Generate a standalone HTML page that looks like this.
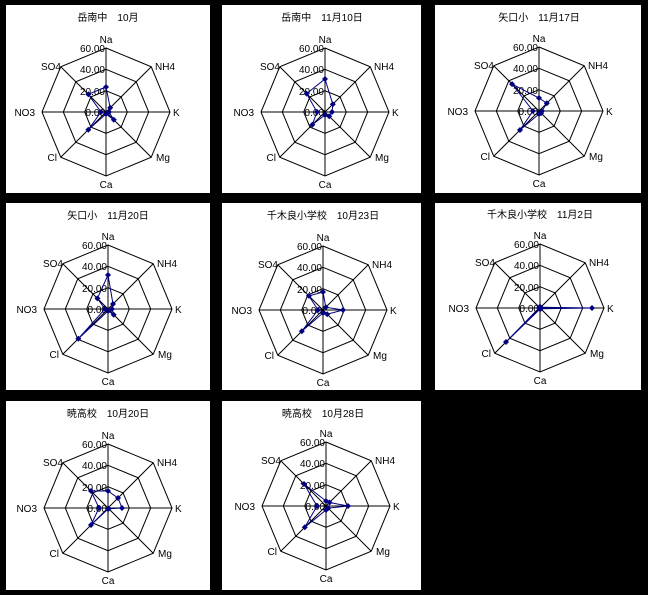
<!DOCTYPE html>
<html><head><meta charset="utf-8"><style>
html,body{margin:0;padding:0;background:#000;}
svg{display:block;}
text{font-family:"Liberation Sans","Noto Sans CJK JP",sans-serif;font-size:10px;fill:#000;}
.g{fill:none;stroke:#000;stroke-width:1;}
.d{fill:none;stroke:#000080;stroke-width:1;}
</style></head><body>
<svg width="648" height="595" viewBox="0 0 648 595" xmlns="http://www.w3.org/2000/svg">
<defs>
<g id="grid">
<polygon class="g" points="0,-64 45.25,-45.25 64,0 45.25,45.25 0,64 -45.25,45.25 -64,0 -45.25,-45.25"/>
<polygon class="g" points="0,-42.7 30.2,-30.2 42.7,0 30.2,30.2 0,42.7 -30.2,30.2 -42.7,0 -30.2,-30.2"/>
<polygon class="g" points="0,-21.3 15.1,-15.1 21.3,0 15.1,15.1 0,21.3 -15.1,15.1 -21.3,0 -15.1,-15.1"/>
<line class="g" x1="0" y1="-64" x2="0" y2="64"/>
<line class="g" x1="-64" y1="0" x2="64" y2="0"/>
<line class="g" x1="-45.25" y1="-45.25" x2="45.25" y2="45.25"/>
<line class="g" x1="45.25" y1="-45.25" x2="-45.25" y2="45.25"/>
</g>
<path id="m" d="M0,-3L3,0L0,3L-3,0Z" fill="#000080"/>
</defs>
<g fill="#fff">
<rect x="6" y="5" width="204" height="188"/>
<rect x="222" y="5" width="199" height="188"/>
<rect x="435" y="5" width="206" height="188"/>
<rect x="6" y="203" width="204" height="187"/>
<rect x="222" y="203" width="199" height="187"/>
<rect x="435" y="203" width="206" height="187"/>
<rect x="6" y="401" width="204" height="189"/>
<rect x="222" y="401" width="199" height="189"/>
</g>

<!-- Panel 1 -->
<g transform="translate(106,112)">
<use href="#grid"/>
<text x="2" y="-91" text-anchor="middle">岳南中　10月</text>
<text x="0" y="-69" text-anchor="middle">Na</text><text x="49" y="-42">NH4</text><text x="67" y="4">K</text><text x="50" y="49">Mg</text><text x="0" y="76" text-anchor="middle">Ca</text><text x="-49" y="49" text-anchor="end">Cl</text><text x="-71" y="4" text-anchor="end">NO3</text><text x="-45" y="-42" text-anchor="end">SO4</text>
<text x="-1" y="-60" text-anchor="end">60.00</text><text x="-1" y="-39" text-anchor="end">40.00</text><text x="-1" y="-17" text-anchor="end">20.00</text><text x="-1" y="4" text-anchor="end">0.00</text>
<polygon class="d" points="0,-25 4.2,-4.2 3,0 7.8,7.8 0,2 -17.7,17.7 -5,0 -17.7,-17.7"/>
<use href="#m" x="0" y="-25"/><use href="#m" x="4.2" y="-4.2"/><use href="#m" x="3" y="0"/><use href="#m" x="7.8" y="7.8"/><use href="#m" x="0" y="2"/><use href="#m" x="-17.7" y="17.7"/><use href="#m" x="-5" y="0"/><use href="#m" x="-17.7" y="-17.7"/>
</g>

<!-- Panel 2 -->
<g transform="translate(325,112)">
<use href="#grid"/>
<text x="-3" y="-91" text-anchor="middle">岳南中　11月10日</text>
<text x="0" y="-69" text-anchor="middle">Na</text><text x="49" y="-42">NH4</text><text x="67" y="4">K</text><text x="50" y="49">Mg</text><text x="0" y="76" text-anchor="middle">Ca</text><text x="-49" y="49" text-anchor="end">Cl</text><text x="-71" y="4" text-anchor="end">NO3</text><text x="-45" y="-42" text-anchor="end">SO4</text>
<text x="-1" y="-60" text-anchor="end">60.00</text><text x="-1" y="-39" text-anchor="end">40.00</text><text x="-1" y="-17" text-anchor="end">20.00</text><text x="-1" y="4" text-anchor="end">0.00</text>
<polygon class="d" points="0,-33 7.8,-7.8 7,0 4.2,4.2 0,3 -12.7,12.7 -8,0 -18.4,-18.4"/>
<use href="#m" x="0" y="-33"/><use href="#m" x="7.8" y="-7.8"/><use href="#m" x="7" y="0"/><use href="#m" x="4.2" y="4.2"/><use href="#m" x="0" y="3"/><use href="#m" x="-12.7" y="12.7"/><use href="#m" x="-8" y="0"/><use href="#m" x="-18.4" y="-18.4"/>
</g>

<!-- Panel 3 -->
<g transform="translate(539,111)">
<use href="#grid"/>
<text x="0" y="-90" text-anchor="middle">矢口小　11月17日</text>
<text x="0" y="-69" text-anchor="middle">Na</text><text x="49" y="-42">NH4</text><text x="67" y="4">K</text><text x="50" y="49">Mg</text><text x="0" y="76" text-anchor="middle">Ca</text><text x="-49" y="49" text-anchor="end">Cl</text><text x="-71" y="4" text-anchor="end">NO3</text><text x="-45" y="-42" text-anchor="end">SO4</text>
<text x="-1" y="-60" text-anchor="end">60.00</text><text x="-1" y="-39" text-anchor="end">40.00</text><text x="-1" y="-17" text-anchor="end">20.00</text><text x="-1" y="4" text-anchor="end">0.00</text>
<polygon class="d" points="0,-13 7.8,-7.8 3,0 2.1,2.1 0,3 -19,19 -6,0 -26.9,-26.9"/>
<use href="#m" x="0" y="-13"/><use href="#m" x="7.8" y="-7.8"/><use href="#m" x="3" y="0"/><use href="#m" x="2.1" y="2.1"/><use href="#m" x="0" y="3"/><use href="#m" x="-19" y="19"/><use href="#m" x="-6" y="0"/><use href="#m" x="-26.9" y="-26.9"/>
</g>

<!-- Panel 4 -->
<g transform="translate(108,309)">
<use href="#grid"/>
<text x="0" y="-90" text-anchor="middle">矢口小　11月20日</text>
<text x="0" y="-69" text-anchor="middle">Na</text><text x="49" y="-42">NH4</text><text x="67" y="4">K</text><text x="50" y="49">Mg</text><text x="0" y="76" text-anchor="middle">Ca</text><text x="-49" y="49" text-anchor="end">Cl</text><text x="-71" y="4" text-anchor="end">NO3</text><text x="-45" y="-42" text-anchor="end">SO4</text>
<text x="-1" y="-60" text-anchor="end">60.00</text><text x="-1" y="-39" text-anchor="end">40.00</text><text x="-1" y="-17" text-anchor="end">20.00</text><text x="-1" y="4" text-anchor="end">0.00</text>
<polygon class="d" points="0,-34 5,-5 4,0 5.7,5.7 0,2 -29.7,29.7 -3,0 -10.6,-10.6"/>
<use href="#m" x="0" y="-34"/><use href="#m" x="5" y="-5"/><use href="#m" x="4" y="0"/><use href="#m" x="5.7" y="5.7"/><use href="#m" x="0" y="2"/><use href="#m" x="-29.7" y="29.7"/><use href="#m" x="-3" y="0"/><use href="#m" x="-10.6" y="-10.6"/>
</g>

<!-- Panel 5 -->
<g transform="translate(323,310)">
<use href="#grid"/>
<text x="0" y="-91" text-anchor="middle">千木良小学校　10月23日</text>
<text x="0" y="-69" text-anchor="middle">Na</text><text x="49" y="-42">NH4</text><text x="67" y="4">K</text><text x="50" y="49">Mg</text><text x="0" y="76" text-anchor="middle">Ca</text><text x="-49" y="49" text-anchor="end">Cl</text><text x="-71" y="4" text-anchor="end">NO3</text><text x="-45" y="-42" text-anchor="end">SO4</text>
<text x="-1" y="-60" text-anchor="end">60.00</text><text x="-1" y="-39" text-anchor="end">40.00</text><text x="-1" y="-17" text-anchor="end">20.00</text><text x="-1" y="4" text-anchor="end">0.00</text>
<polygon class="d" points="0,-18 2.8,-2.8 20,0 4.2,4.2 0,3 -21.2,21.2 -5,0 -14.1,-14.1"/>
<use href="#m" x="0" y="-18"/><use href="#m" x="2.8" y="-2.8"/><use href="#m" x="20" y="0"/><use href="#m" x="4.2" y="4.2"/><use href="#m" x="0" y="3"/><use href="#m" x="-21.2" y="21.2"/><use href="#m" x="-5" y="0"/><use href="#m" x="-14.1" y="-14.1"/>
</g>

<!-- Panel 6 -->
<g transform="translate(540,308)">
<use href="#grid"/>
<text x="0" y="-90" text-anchor="middle">千木良小学校　11月2日</text>
<text x="0" y="-69" text-anchor="middle">Na</text><text x="49" y="-42">NH4</text><text x="67" y="4">K</text><text x="50" y="49">Mg</text><text x="0" y="76" text-anchor="middle">Ca</text><text x="-49" y="49" text-anchor="end">Cl</text><text x="-71" y="4" text-anchor="end">NO3</text><text x="-45" y="-42" text-anchor="end">SO4</text>
<text x="-1" y="-60" text-anchor="end">60.00</text><text x="-1" y="-39" text-anchor="end">40.00</text><text x="-1" y="-17" text-anchor="end">20.00</text><text x="-1" y="4" text-anchor="end">0.00</text>
<polygon class="d" points="0,-1 0.7,-0.7 52,0 0.7,0.7 0,1 -34,34 -1,0 -0.7,-0.7"/>
<use href="#m" x="0" y="-1"/><use href="#m" x="0.7" y="-0.7"/><use href="#m" x="52" y="0"/><use href="#m" x="0.7" y="0.7"/><use href="#m" x="0" y="1"/><use href="#m" x="-34" y="34"/><use href="#m" x="-1" y="0"/><use href="#m" x="-0.7" y="-0.7"/>
</g>

<!-- Panel 7 -->
<g transform="translate(108,508)">
<use href="#grid"/>
<text x="0" y="-91" text-anchor="middle">暁高校　10月20日</text>
<text x="0" y="-69" text-anchor="middle">Na</text><text x="49" y="-42">NH4</text><text x="67" y="4">K</text><text x="50" y="49">Mg</text><text x="0" y="76" text-anchor="middle">Ca</text><text x="-49" y="49" text-anchor="end">Cl</text><text x="-71" y="4" text-anchor="end">NO3</text><text x="-45" y="-42" text-anchor="end">SO4</text>
<text x="-1" y="-60" text-anchor="end">60.00</text><text x="-1" y="-39" text-anchor="end">40.00</text><text x="-1" y="-17" text-anchor="end">20.00</text><text x="-1" y="4" text-anchor="end">0.00</text>
<polygon class="d" points="0,-17 10,-10 14,0 0.7,0.7 0,1 -17,17 -9,0 -17,-17"/>
<use href="#m" x="0" y="-17"/><use href="#m" x="10" y="-10"/><use href="#m" x="14" y="0"/><use href="#m" x="0.7" y="0.7"/><use href="#m" x="0" y="1"/><use href="#m" x="-17" y="17"/><use href="#m" x="-9" y="0"/><use href="#m" x="-17" y="-17"/>
</g>

<!-- Panel 8 -->
<g transform="translate(326,506)">
<use href="#grid"/>
<text x="-3" y="-89" text-anchor="middle">暁高校　10月28日</text>
<text x="0" y="-69" text-anchor="middle">Na</text><text x="49" y="-42">NH4</text><text x="67" y="4">K</text><text x="50" y="49">Mg</text><text x="0" y="76" text-anchor="middle">Ca</text><text x="-49" y="49" text-anchor="end">Cl</text><text x="-71" y="4" text-anchor="end">NO3</text><text x="-45" y="-42" text-anchor="end">SO4</text>
<text x="-1" y="-60" text-anchor="end">60.00</text><text x="-1" y="-39" text-anchor="end">40.00</text><text x="-1" y="-17" text-anchor="end">20.00</text><text x="-1" y="4" text-anchor="end">0.00</text>
<polygon class="d" points="0,-5 3.5,-3.5 22,0 2.1,2.1 0,4 -21.2,21.2 -9,0 -22,-22"/>
<use href="#m" x="0" y="-5"/><use href="#m" x="3.5" y="-3.5"/><use href="#m" x="22" y="0"/><use href="#m" x="2.1" y="2.1"/><use href="#m" x="0" y="4"/><use href="#m" x="-21.2" y="21.2"/><use href="#m" x="-9" y="0"/><use href="#m" x="-22" y="-22"/>
</g>
</svg>
</body></html>
